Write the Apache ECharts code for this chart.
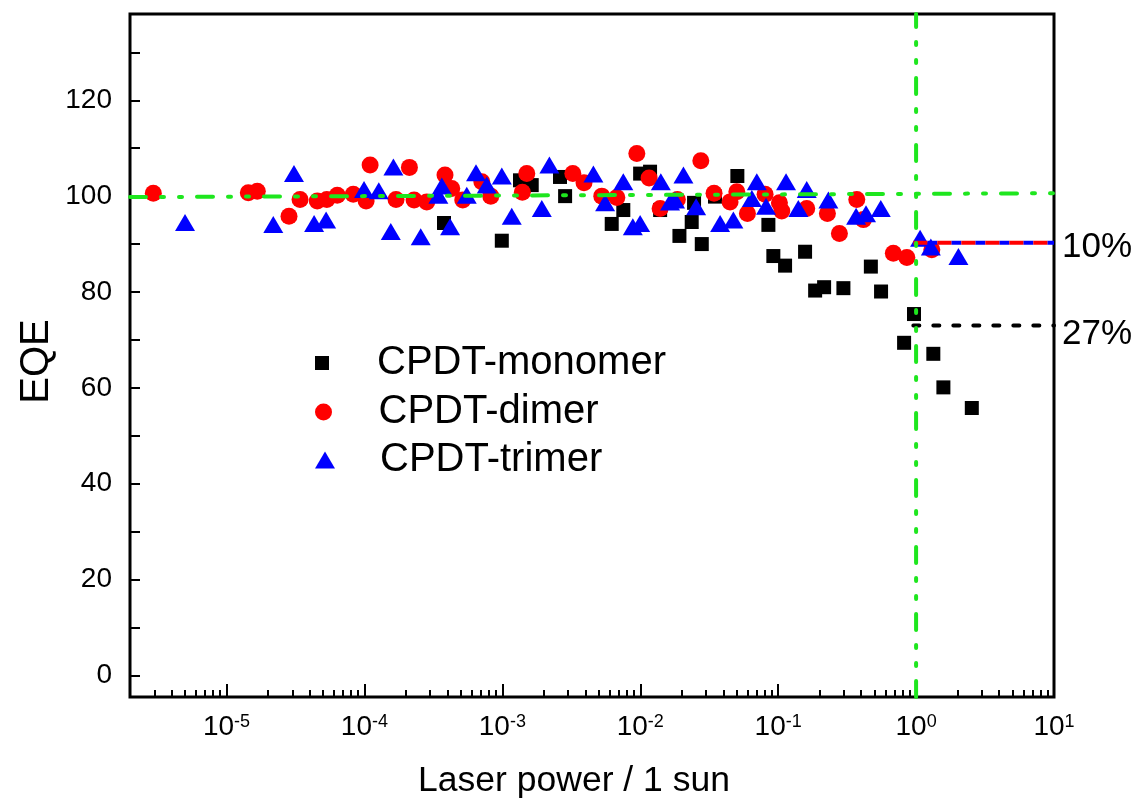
<!DOCTYPE html>
<html>
<head>
<meta charset="utf-8">
<script src="https://cdn.jsdelivr.net/npm/echarts@6/dist/echarts.min.js"></script>
<style>
  html, body { margin: 0; padding: 0; background: #fff; }
  #chart { width: 1137px; height: 798px; }
</style>
</head>
<body>
<div id="chart"></div>
<script>
// x values are log10(laser power / 1 sun), y values are EQE (%)
const monomerLogP = [-3.423, -3.004, -2.872, -2.787, -2.582, -2.545, -2.207, -2.123, -2.001, -1.929,
  -1.856, -1.716, -1.627, -1.610, -1.554, -1.458, -1.296, -1.071, -1.035, -0.950,
  -0.805, -0.732, -0.667, -0.527, -0.328, -0.254, -0.015, -0.087, 0.125, 0.198, 0.404];
const monomerEQE = [94.4, 90.7, 103.3, 102.3, 104.0, 100.0, 94.2, 97.1, 104.7, 105.1,
  97.1, 91.7, 94.6, 98.6, 90.0, 99.9, 104.2, 94.0, 87.5, 85.5,
  88.4, 80.3, 81.0, 80.8, 85.3, 80.1, 75.4, 69.4, 67.1, 60.1, 55.8];

const dimerLogP = [-5.531, -4.842, -4.777, -4.547, -4.467, -4.342, -4.273, -4.197, -4.081, -3.988,
  -3.959, -3.771, -3.674, -3.640, -3.548, -3.416, -3.367, -3.287, -3.149, -3.084,
  -2.855, -2.823, -2.489, -2.408, -2.279, -2.170, -2.025, -1.936, -1.856, -1.731,
  -1.561, -1.465, -1.349, -1.300, -1.223, -1.095, -0.991, -0.974, -0.793, -0.643,
  -0.556, -0.430, -0.382, -0.165, -0.067, 0.114];
const dimerEQE = [100.6, 100.7, 101.0, 95.8, 99.3, 99.0, 99.3, 100.2, 100.4, 99.0,
  106.5, 99.3, 106.0, 99.2, 98.8, 104.4, 101.6, 99.2, 103.0, 100.0,
  100.8, 104.7, 104.7, 102.8, 100.0, 99.7, 108.9, 103.8, 97.4, 99.3,
  107.4, 100.6, 98.8, 100.9, 96.4, 100.4, 98.6, 96.9, 97.4, 96.4,
  92.2, 99.3, 95.1, 88.1, 87.2, 88.8];

const trimerLogP = [-5.301, -4.661, -4.511, -4.365, -4.278, -4.003, -3.896, -3.790, -3.809, -3.592,
  -3.379, -3.439, -3.464, -3.258, -3.191, -3.113, -3.004, -2.932, -2.659, -2.714,
  -2.340, -2.255, -2.123, -2.054, -2.001, -1.851, -1.784, -1.748, -1.687, -1.595,
  -1.421, -1.325, -1.155, -1.191, -1.088, -0.943, -0.854, -0.793, -0.636, -0.435,
  -0.363, -0.256, 0.029, 0.107, 0.307];
const trimerEQE = [94.5, 94.1, 104.7, 94.3, 95.0, 101.4, 101.1, 106.1, 92.6, 91.5,
  93.6, 102.1, 100.2, 100.2, 104.9, 102.3, 104.2, 95.8, 106.5, 97.4,
  104.6, 98.6, 103.0, 93.6, 94.3, 103.0, 98.8, 99.2, 104.4, 97.8,
  94.3, 95.0, 103.0, 99.5, 97.9, 103.0, 97.4, 101.4, 99.2, 95.8,
  96.3, 97.4, 91.2, 89.4, 87.4];

// guide lines
const flatLogP = [-5.7, 1];
const flatEQE = [99.8, 100.6];
const oneSunLogP = [0, 0];
const oneSunEQE = [-4.5, 138];
const dimerDropLogP = [-0.02, 1];
const dimerDropEQE = [90.3, 90.3];
const monomerDropLogP = [-0.02, 1];
const monomerDropEQE = [73.0, 73.0];
const dimerDropText = '10%';
const monomerDropText = '27%';

// axes
const xDecades = [-5, -4, -3, -2, -1, 0, 1];
const xMinorMultipliers = [2, 3, 4, 5, 6, 7, 8, 9];
const yLabelValues = [0, 20, 40, 60, 80, 100, 120];
const yTickValues = [0, 10, 20, 30, 40, 50, 60, 70, 80, 90, 100, 110, 120, 130];
const X_MIN = -5.7, X_MAX = 1, Y_MIN = -4.5, Y_MAX = 138;

const FONT = '"Liberation Sans", Arial, Helvetica, sans-serif';
const GREEN = '#1ee61e';

const pair = (xs, ys) => xs.map((x, i) => [x, ys[i]]);

const xMinorTicks = [];
for (let d = -6; d <= 0; d++) {
  for (const k of xMinorMultipliers) {
    const v = d + Math.log10(k);
    if (v > X_MIN && v < X_MAX) xMinorTicks.push(v);
  }
}

const chart = echarts.init(document.getElementById('chart'), null, { renderer: 'canvas' });

const legendBase = {
  left: 310,
  itemWidth: 100,
  selectedMode: false,
  symbolKeepAspect: true,
  textStyle: { fontSize: 40, fontFamily: FONT, color: '#000', lineHeight: 40 }
};

const option = {
  animation: false,
  backgroundColor: '#fff',
  grid: {
    left: 130, right: 83, top: 14, bottom: 101,
    show: true, borderColor: '#000', borderWidth: 3,
    outerBoundsMode: 'none'
  },
  legend: [
    Object.assign({}, legendBase, { top: 338, itemHeight: 14,
      data: [{ name: 'CPDT-monomer', icon: 'path://M0,0H10V10H0Z' }] }),
    Object.assign({}, legendBase, { top: 387, itemHeight: 17,
      data: [{ name: 'CPDT-dimer', icon: 'path://M0,5A5,5,0,1,1,10,5A5,5,0,1,1,0,5Z' }] }),
    Object.assign({}, legendBase, { top: 435, itemHeight: 17,
      data: [{ name: 'CPDT-trimer', icon: 'path://M10,0L20,17L0,17Z' }] })
  ],
  xAxis: [
    {
      type: 'value', min: X_MIN, max: X_MAX, position: 'bottom',
      axisLine: { show: false, onZero: false }, splitLine: { show: false },
      axisTick: { show: true, inside: true, length: 13, customValues: xDecades,
        lineStyle: { color: '#000', width: 2 } },
      axisLabel: {
        show: true, customValues: xDecades, margin: 16,
        formatter: v => '{b|10}{s|' + Math.round(v) + '}',
        rich: {
          b: { fontSize: 28, fontFamily: FONT, color: '#000' },
          s: { fontSize: 18, fontFamily: FONT, color: '#000', verticalAlign: 'top' }
        }
      },
      name: 'Laser power / 1 sun', nameLocation: 'middle', nameGap: 66,
      nameMoveOverlap: false,
      nameTextStyle: { fontSize: 35.5, fontFamily: FONT, color: '#000', padding: [0, 36, 0, 0] }
    },
    {
      type: 'value', min: X_MIN, max: X_MAX, position: 'bottom',
      axisLine: { show: false, onZero: false }, splitLine: { show: false },
      axisLabel: { show: false },
      axisTick: { show: true, inside: true, length: 7, customValues: xMinorTicks,
        lineStyle: { color: '#000', width: 2 } }
    }
  ],
  yAxis: {
    type: 'value', min: Y_MIN, max: Y_MAX,
    axisLine: { show: false, onZero: false }, splitLine: { show: false },
    axisTick: { show: true, inside: true, length: 10, customValues: yTickValues,
      lineStyle: { color: '#000', width: 2 } },
    axisLabel: { customValues: yLabelValues, margin: 18, fontSize: 28,
      fontFamily: FONT, color: '#000' },
    name: 'EQE', nameLocation: 'middle', nameGap: 73, nameRotate: 90,
    nameMoveOverlap: false,
    nameTextStyle: { fontSize: 40, fontFamily: FONT, color: '#000', padding: [0, 12, 0, 0] }
  },
  series: [
    { name: 'CPDT-monomer', type: 'scatter', symbol: 'rect', symbolSize: 14,
      itemStyle: { color: '#000', opacity: 1 }, data: pair(monomerLogP, monomerEQE) },
    { name: 'CPDT-dimer', type: 'scatter', symbol: 'circle', symbolSize: 17,
      itemStyle: { color: '#ff0000', opacity: 1 }, data: pair(dimerLogP, dimerEQE) },
    { name: 'CPDT-trimer', type: 'scatter', symbol: 'triangle', symbolSize: [20, 17],
      itemStyle: { color: '#0000ff', opacity: 1 }, data: pair(trimerLogP, trimerEQE) },

    { type: 'line', silent: true, symbol: 'none', clip: false,
      lineStyle: { color: '#0000ff', width: 4, type: [10, 14], dashOffset: -14, cap: 'butt' },
      data: pair(dimerDropLogP, dimerDropEQE) },
    { type: 'line', silent: true, symbol: 'none', clip: false,
      lineStyle: { color: '#ff0000', width: 4, type: [14, 10], cap: 'butt' },
      endLabel: { show: true, formatter: dimerDropText, color: '#000', fontSize: 35,
        fontFamily: FONT, distance: 8, offset: [0, 5] },
      data: pair(dimerDropLogP, dimerDropEQE) },
    { type: 'line', silent: true, symbol: 'none', clip: false,
      lineStyle: { color: '#000', width: 4, type: [6, 14], cap: 'round' },
      endLabel: { show: true, formatter: monomerDropText, color: '#000', fontSize: 35,
        fontFamily: FONT, distance: 8, offset: [0, 9] },
      data: pair(monomerDropLogP, monomerDropEQE) },
    { type: 'line', silent: true, symbol: 'none', clip: false,
      lineStyle: { color: GREEN, width: 4, type: [16, 15, 3, 15, 3, 15], cap: 'round' },
      data: pair(flatLogP, flatEQE) },
    { type: 'line', silent: true, symbol: 'none', clip: false,
      lineStyle: { color: GREEN, width: 4, type: [16, 15, 3, 15, 3, 15], cap: 'round' },
      data: pair(oneSunLogP, oneSunEQE) }
  ]
};

chart.setOption(option);
</script>
</body>
</html>
